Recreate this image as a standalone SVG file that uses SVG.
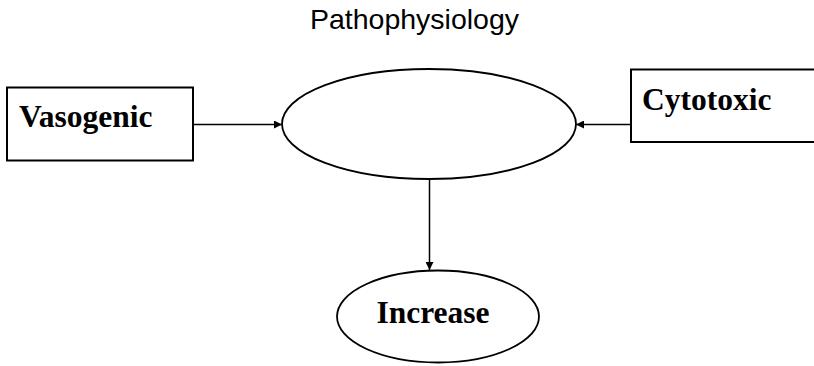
<svg xmlns="http://www.w3.org/2000/svg" width="814" height="366" viewBox="0 0 814 366">
<style>
.box{fill:#fff;stroke:#000;stroke-width:2}
.ell{fill:#fff;stroke:#000;stroke-width:1.8}
.lbl{font-family:"Liberation Serif","Times New Roman",serif;font-weight:bold;font-size:31.5px;fill:#000}
.title{font-family:"Liberation Sans",Arial,sans-serif;font-size:28.5px;fill:#000}
.conn{stroke:#000;stroke-width:1.5;fill:none;marker-end:url(#ah)}
</style>
<defs>
<marker id="ah" viewBox="0 0 10 10" refX="10" refY="5" markerWidth="9" markerHeight="8" markerUnits="userSpaceOnUse" orient="auto">
<path d="M0,0 L10,5 L0,10 z" fill="#000"/>
</marker>
</defs>
<rect width="814" height="366" fill="#fff"/>
<text class="title" x="414.5" y="29" text-anchor="middle">Pathophysiology</text>
<g id="vasogenic">
<rect class="box" x="7" y="87.5" width="186" height="73"/>
<text class="lbl" x="19" y="127">Vasogenic</text>
</g>
<g id="cytotoxic">
<rect class="box" x="631" y="69.5" width="190" height="72.5"/>
<text class="lbl" x="642" y="110">Cytotoxic</text>
</g>
<g id="center">
<ellipse class="ell" cx="429" cy="124" rx="147" ry="55"/>
</g>
<g id="increase">
<ellipse class="ell" cx="438" cy="316.5" rx="101" ry="46"/>
<text class="lbl" x="433" y="322.5" text-anchor="middle">Increase</text>
</g>
<g id="connectors">
<line class="conn" x1="193" y1="124.5" x2="282" y2="124.5"/>
<line class="conn" x1="631" y1="124.5" x2="576" y2="124.5"/>
<line class="conn" x1="429.5" y1="179" x2="429.5" y2="270"/>
</g>
</svg>
